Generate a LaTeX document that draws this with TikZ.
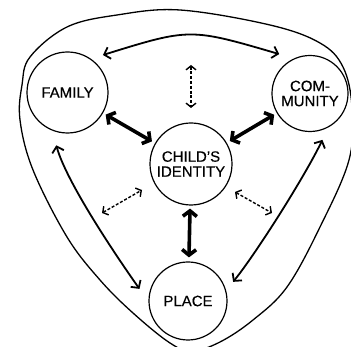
\documentclass[tikz,border=0pt]{standalone}
\usepackage{fontspec}
\setmainfont{Liberation Sans}
\usetikzlibrary{arrows.meta,calc}
\newcommand\lblfont{\addfontfeature{FakeBold=0.4}\fontsize{15}{15}\selectfont}
\begin{document}
\begin{tikzpicture}[x=1pt,y=1pt,
  circ/.style={circle, draw, line width=1.2pt, minimum size=#1, inner sep=0pt, align=center, font=\lblfont},
  thinarr/.style={line width=1.8pt, {Straight Barb[length=5.5pt,width=12pt]}-{Straight Barb[length=5.5pt,width=12pt]}},
  thickarr/.style={line width=3.6pt, {Straight Barb[length=5.5pt,width=14pt]}-{Straight Barb[length=5.5pt,width=14pt]}},
  dasharr/.style={line width=1.4pt, dash pattern=on 3pt off 1.8pt, {Straight Barb[length=4pt,width=10pt]}-{Straight Barb[length=4pt,width=10pt]}},
  outer/.style={line width=1.3pt}]
\useasboundingbox (0,0) rectangle (351,347);
% outer rounded triangle
\draw[outer] plot[smooth cycle, tension=0.6] coordinates {
  (117,332) (180,337) (270,322) (320,304) (343,280) (352,240) (349,187)
  (320,120) (287,60) (253,27) (220,5) (192,-4) (170,4) (133,34) (100,67)
  (67,110) (33,177) (20,227) (22,262) (30,290) (67,320)};
% circles
\node[circ=81pt] (family) at (67.5,254.5) {FAMILY};
\node[circ=76pt] (community) at (310,253.5) {COM-\\MUNITY};
\node[circ=82pt] (child) at (191,183) {CHILD'S\\IDENTITY};
\node[circ=78pt] (place) at (188,46) {PLACE};
% arrow end coordinates
\coordinate (t1) at ($(family)+(46.6:51.6)$);
\coordinate (t2) at ($(community)+(128:50)$);
\coordinate (fp1) at ($(family)+(-102:54)$);
\coordinate (fp2) at ($(place)+(166:50)$);
\coordinate (cp1) at ($(community)+(-75:48)$);
\coordinate (cp2) at ($(place)+(23:49)$);
\coordinate (dv1) at (191,282);
\coordinate (dv2) at (191,239);
\coordinate (dl1) at (102,134);
\coordinate (dl2) at (142,157);
\coordinate (dr1) at (235,155);
\coordinate (dr2) at (272,134);
% thin curved arrows
\draw[thinarr] (t1) .. controls (190,319) .. (t2);
\draw[thinarr] (fp1) .. controls (66.6,164.4) and (117.1,89.8) .. (fp2);
\draw[thinarr] (cp1) .. controls (304.2,169.4) and (255.6,93) .. (cp2);
% thick arrows
\draw[thickarr, shorten <=3pt, shorten >=3.5pt] (family) -- (child);
\draw[thickarr, shorten <=3pt, shorten >=3.5pt] (community) -- (child);
\draw[thickarr, shorten <=3pt, shorten >=4pt] (child) -- (place);
% dashed arrows
\draw[dasharr] (dv1) -- (dv2);
\draw[dasharr] (dl1) -- (dl2);
\draw[dasharr] (dr1) -- (dr2);
\end{tikzpicture}
\end{document}
